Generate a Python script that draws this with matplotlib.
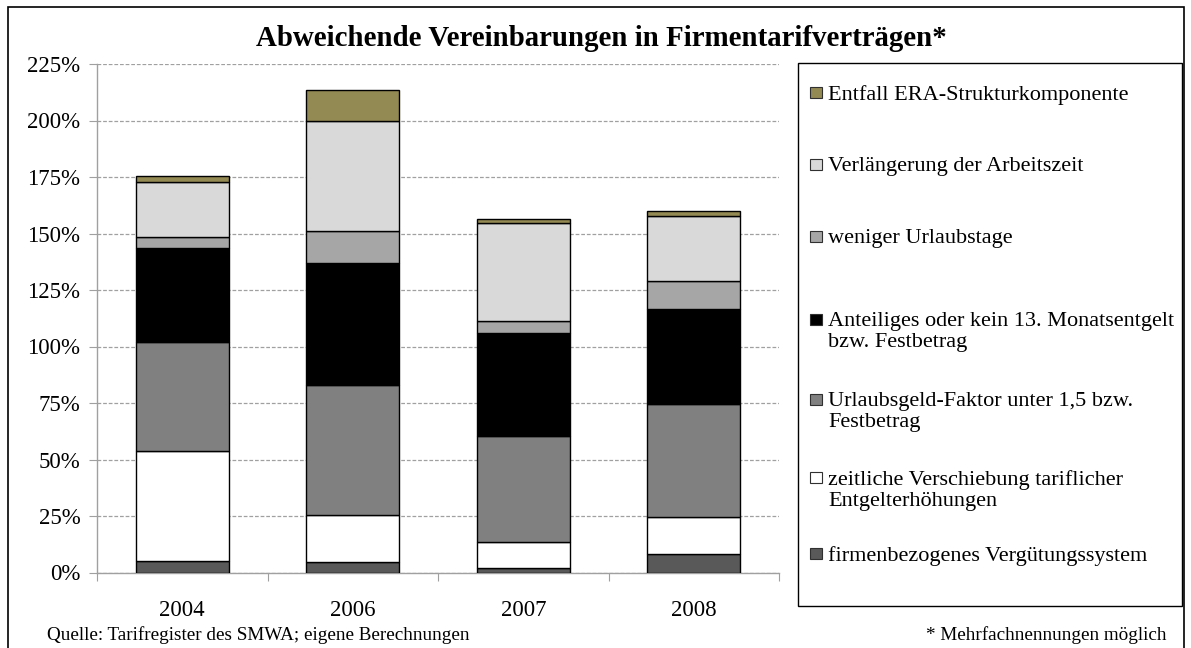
import matplotlib
matplotlib.use("Agg")
import matplotlib.pyplot as plt
from matplotlib.patches import Rectangle
import numpy as np

plt.rcParams['font.family'] = ['Liberation Serif', 'DejaVu Serif']

years = ["2004", "2006", "2007", "2008"]
series_names = [
    "firmenbezogenes Vergütungssystem",
    "zeitliche Verschiebung tariflicher\nEntgelterhöhungen",
    "Urlaubsgeld-Faktor unter 1,5 bzw.\nFestbetrag",
    "Anteiliges oder kein 13. Monatsentgelt\nbzw. Festbetrag",
    "weniger Urlaubstage",
    "Verlängerung der Arbeitszeit",
    "Entfall ERA-Strukturkomponente",
]
firmenbezogen = [5.1, 4.6, 2.1, 8.3]
verschiebung = [48.8, 20.7, 11.5, 16.4]
urlaubsgeld = [48.2, 57.7, 46.8, 50.0]
monatsentgelt = [41.4, 54.0, 45.4, 41.8]
urlaubstage = [5.0, 14.2, 5.5, 12.3]
arbeitszeit = [24.3, 48.6, 43.5, 29.1]
era = [2.8, 13.7, 1.5, 2.2]
colors = ["#595959", "#ffffff", "#808080", "#000000", "#a6a6a6", "#d9d9d9", "#938953"]
yticks = [0, 25, 50, 75, 100, 125, 150, 175, 200, 225]

W, H = 1191, 648
fig = plt.figure(figsize=(W / 100, H / 100), dpi=100)

def fx(px):
    return px / W

def fy(py):
    return 1 - py / H

# outer frame
fig.patches.append(Rectangle((fx(8), fy(700)), fx(1184) - fx(8), fy(7) - fy(700),
                             transform=fig.transFigure, fill=False, edgecolor="black",
                             linewidth=1.2, zorder=0))

ax = fig.add_axes([fx(97), fy(572.5), fx(779) - fx(97), fy(64) - fy(572.5)])
data = [firmenbezogen, verschiebung, urlaubsgeld, monatsentgelt, urlaubstage, arbeitszeit, era]
x = np.arange(len(years))
bottom = np.zeros(len(years))
for vals, c in zip(data, colors):
    ax.bar(x, vals, width=0.545, bottom=bottom, color=c, edgecolor="black",
           linewidth=1.0, zorder=3)
    bottom += np.array(vals)

ax.set_xlim(-0.5, len(years) - 0.5)
ax.set_ylim(0, 225)
ax.set_yticks(yticks)
ax.set_yticklabels([f"{v}%" for v in yticks], fontsize=16.5)
ax.set_xticks(np.arange(-0.5, len(years)), minor=False)
ax.set_xticklabels([])
ax.set_xticks(x, minor=True)
ax.set_xticklabels(years, minor=True, fontsize=16.5)
ax.tick_params(axis="x", which="minor", length=0, pad=20)
ax.tick_params(axis="x", which="major", length=6, color="#a0a0a0", direction="out")
ax.tick_params(axis="y", length=6, color="#a0a0a0", direction="out", pad=6)
ax.yaxis.grid(True, linestyle=(0, (3, 1.5)), color="#a0a0a0", linewidth=0.9, zorder=0)
ax.set_axisbelow(True)
for s in ["top", "right"]:
    ax.spines[s].set_visible(False)
for s in ["left", "bottom"]:
    ax.spines[s].set_color("#a0a0a0")
    ax.spines[s].set_linewidth(1.0)

fig.text(fx(601), fy(38), "Abweichende Vereinbarungen in Firmentarifverträgen*",
         ha="center", va="center", fontsize=20.8, fontweight="bold")

# legend box
fig.patches.append(Rectangle((fx(798), fy(606)), fx(1182) - fx(798), fy(63) - fy(606),
                             transform=fig.transFigure, fill=False, edgecolor="black",
                             linewidth=1.0))
legend_y = [96, 168, 240, 323, 403, 481, 557]
for name, c, ly in zip(series_names[::-1], colors[::-1], legend_y):
    fig.patches.append(Rectangle((fx(810), fy(ly + 2)), fx(822) - fx(810), fy(ly - 9) - fy(ly + 2),
                                 transform=fig.transFigure, facecolor=c, edgecolor="#303030",
                                 linewidth=0.8))
    fig.text(fx(828), fy(ly - 11), name, ha="left", va="top", fontsize=16,
             linespacing=1.15)

fig.text(fx(47), fy(635), "Quelle: Tarifregister des SMWA; eigene Berechnungen",
         ha="left", va="center", fontsize=13.8)
fig.text(fx(1166), fy(635), "* Mehrfachnennungen möglich",
         ha="right", va="center", fontsize=13.8)

fig.savefig("out.png", dpi=100)
